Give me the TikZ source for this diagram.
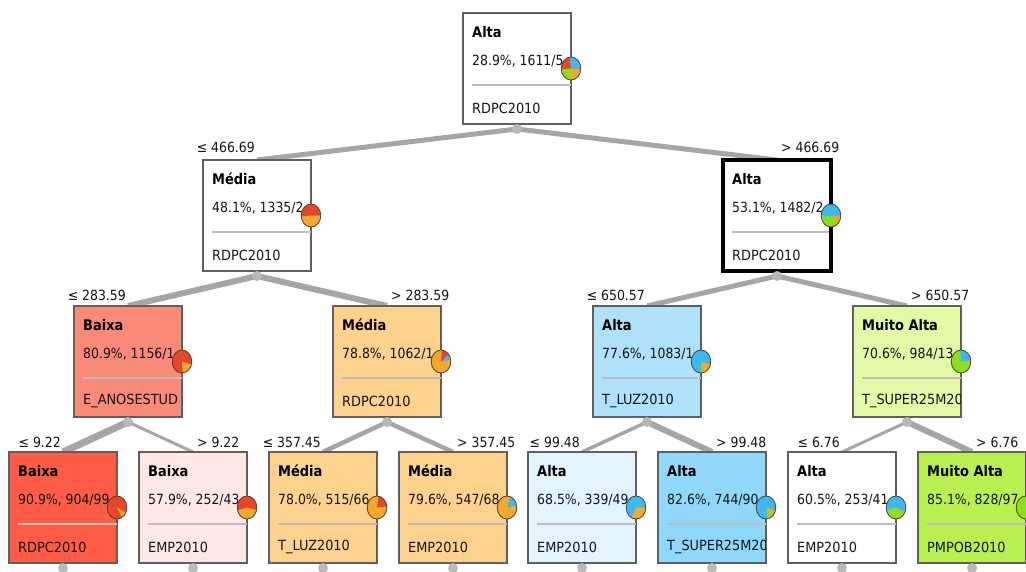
\documentclass[tikz,border=0pt]{standalone}
\usepackage{fontspec}
\usepackage{graphicx}
\setmainfont{DejaVu Sans}
\usetikzlibrary{calc}
\pgfdeclarelayer{bg}
\pgfsetlayers{bg,main}
\definecolor{edgec}{RGB}{166,166,170}
\definecolor{dotc}{RGB}{185,185,188}
\definecolor{boxline}{RGB}{95,95,95}
\definecolor{sepc}{RGB}{190,190,190}
\definecolor{txt}{RGB}{20,20,30}
\definecolor{pred}{RGB}{232,70,42}
\definecolor{pora}{RGB}{245,168,44}
\definecolor{pblu}{RGB}{62,184,245}
\definecolor{pgrn}{RGB}{142,222,32}
\definecolor{pline}{RGB}{80,65,40}
\definecolor{fBaixaA}{RGB}{250,138,120}
\definecolor{fBaixaB}{RGB}{255,92,70}
\definecolor{fBaixaC}{RGB}{253,232,230}
\definecolor{fMedia}{RGB}{253,210,140}
\definecolor{fAltaA}{RGB}{175,226,250}
\definecolor{fAltaB}{RGB}{225,243,253}
\definecolor{fAltaC}{RGB}{143,216,250}
\definecolor{fMAltaA}{RGB}{226,250,165}
\definecolor{fMAltaB}{RGB}{185,240,80}
\newcommand\nx[1]{\scalebox{0.89}[1]{#1}}
\newcommand\nv[1]{\scalebox{0.92}[1]{#1}}
\tikzset{
  tbox/.style={draw=boxline, line width=1.3pt, minimum width=108pt, minimum height=111pt,
    anchor=north west, inner sep=0pt, outer sep=0pt},
  ttitle/.style={anchor=west, inner sep=0pt, text=black, font=\fontsize{14.6}{16}\selectfont\bfseries},
  tstat/.style={anchor=west, inner sep=0pt, text=txt, font=\fontsize{14}{16}\selectfont},
  tvar/.style={anchor=west, inner sep=0pt, text=txt, font=\fontsize{14}{16}\selectfont},
  tsep/.style={draw=sepc, line width=2pt},
  edge/.style={draw=edgec},
  dotst/.style={fill=dotc},
  pieline/.style={draw=pline, line width=0.8pt},
  lleft/.style={anchor=base east, inner sep=0pt, text=txt, font=\fontsize{14}{16}\selectfont},
  lright/.style={anchor=base west, inner sep=0pt, text=txt, font=\fontsize{14}{16}\selectfont},
}
\newcommand\tbox[7]{%
  \node[tbox, fill=#4] (#1) at (#2,#3) {};
  \begin{scope}
    \clip ([xshift=1pt,yshift=-1pt]#1.north west) rectangle ([xshift=-1pt,yshift=1pt]#1.south east);
    \node[ttitle] (#1t) at ([xshift=9pt,yshift=-19pt]#1.north west) {\nx{#5}};
    \node[tstat] (#1s) at ([xshift=9pt,yshift=-48pt]#1.north west) {\nx{#6}};
    \node[tvar] (#1v) at ([xshift=9pt,yshift=-95pt]#1.north west) {\nv{#7}};
  \end{scope}
  \draw[tsep] ([xshift=9pt,yshift=-72pt]#1.north west) -- ([yshift=-72pt]#1.north east);
  \coordinate (#1d) at ([yshift=-5pt]#1.south);
}
\newcommand\piechart[3]{%
  \fill[#2] (#1.east) ellipse[x radius=9.8pt, y radius=11.5pt];
  \foreach \pa/\pb/\pcol in {#3} {
    \fill[\pcol] (#1.east) -- ++(\pa:9.8pt and 11.5pt) arc[start angle=\pa, end angle=\pb, x radius=9.8pt, y radius=11.5pt] -- cycle;
  }
  \draw[pieline] (#1.east) ellipse[x radius=9.8pt, y radius=11.5pt];
}
\begin{document}
\begin{tikzpicture}[x=1pt,y=-1pt]
\useasboundingbox (0,0) rectangle (1026,572);
\clip (0,0) rectangle (1026,572);
\begin{pgfonlayer}{bg}
\fill[white] (0,0) rectangle (1026,572);
\end{pgfonlayer}

% boxes
\tbox{n0}{463}{13}{white}{Alta}{28.9\%, 1611/5}{RDPC2010}
\tbox{n1}{203}{160}{white}{Média}{48.1\%, 1335/2}{RDPC2010}
\tbox{n2}{723}{160}{white}{Alta}{53.1\%, 1482/2}{RDPC2010}
\draw[black, line width=3.5pt] (n2.north west) rectangle (n2.south east);
\tbox{n11}{74}{306}{fBaixaA}{Baixa}{80.9\%, 1156/1}{E\_ANOSESTUD}
\tbox{n12}{333}{306}{fMedia}{Média}{78.8\%, 1062/1}{RDPC2010}
\tbox{n21}{593}{306}{fAltaA}{Alta}{77.6\%, 1083/1}{T\_LUZ2010}
\tbox{n22}{853}{306}{fMAltaA}{Muito Alta}{70.6\%, 984/13}{T\_SUPER25M20}
\tbox{n111}{9}{452}{fBaixaB}{Baixa}{90.9\%, 904/99}{RDPC2010}
\tbox{n112}{139}{452}{fBaixaC}{Baixa}{57.9\%, 252/43}{EMP2010}
\tbox{n121}{269}{452}{fMedia}{Média}{78.0\%, 515/66}{T\_LUZ2010}
\tbox{n122}{399}{452}{fMedia}{Média}{79.6\%, 547/68}{EMP2010}
\tbox{n211}{528}{452}{fAltaB}{Alta}{68.5\%, 339/49}{EMP2010}
\tbox{n212}{658}{452}{fAltaC}{Alta}{82.6\%, 744/90}{T\_SUPER25M20}
\tbox{n221}{788}{452}{white}{Alta}{60.5\%, 253/41}{EMP2010}
\tbox{n222}{918}{452}{fMAltaB}{Muito Alta}{85.1\%, 828/97}{PMPOB2010}

% edges
\begin{pgfonlayer}{bg}
\draw[edge, line width=5pt] (n0d) -- (n1.north);
\draw[edge, line width=5pt] (n0d) -- (n2.north);
\draw[edge, line width=6pt] (n1d) -- (n11.north);
\draw[edge, line width=6pt] (n1d) -- (n12.north);
\draw[edge, line width=5pt] (n2d) -- (n21.north);
\draw[edge, line width=5pt] (n2d) -- (n22.north);
\draw[edge, line width=7pt] (n11d) -- (n111.north);
\draw[edge, line width=3pt] (n11d) -- (n112.north);
\draw[edge, line width=4.5pt] (n12d) -- (n121.north);
\draw[edge, line width=4.5pt] (n12d) -- (n122.north);
\draw[edge, line width=3.5pt] (n21d) -- (n211.north);
\draw[edge, line width=6pt] (n21d) -- (n212.north);
\draw[edge, line width=3pt] (n22d) -- (n221.north);
\draw[edge, line width=6pt] (n22d) -- (n222.north);
\end{pgfonlayer}

% dots
\foreach \n in {n0,n1,n2,n11,n12,n21,n22,n111,n112,n121,n122,n211,n212,n221,n222}
  \fill[dotst] (\n d) circle[radius=5pt];

% pies
\piechart{n0}{pblu}{99/185/pred, 185/270/pgrn, 270/355/pora}
\piechart{n1}{pred}{185/358/pora, 358/362/pblu}
\piechart{n2}{pblu}{186/320/pgrn, 320/355/pora}
\piechart{n11}{pred}{275/345/pora}
\piechart{n12}{pora}{10/40/pblu, 40/85/pred}
\piechart{n21}{pblu}{270/285/pgrn, 285/345/pora}
\piechart{n22}{pgrn}{0/5/pora, 5/95/pblu}
\piechart{n111}{pred}{300/333/pora}
\piechart{n112}{pred}{195/347/pora}
\piechart{n121}{pora}{5/80/pred}
\piechart{n122}{pora}{10/70/pblu}
\piechart{n211}{pblu}{245/358/pora}
\piechart{n212}{pblu}{280/310/pgrn, 310/343/pora}
\piechart{n221}{pblu}{193/325/pgrn, 325/335/pora}
\piechart{n222}{pgrn}{30/85/pblu}

% branch labels
\node[lleft]  (l1)   at ([xshift=-2pt,yshift=7pt]n1.north)   {\nx{≤ 466.69}};
\node[lright] (l2)   at ([xshift=4pt,yshift=7pt]n2.north)    {\nx{> 466.69}};
\node[lleft]  (l11)  at ([xshift=-2pt,yshift=5pt]n11.north)  {\nx{≤ 283.59}};
\node[lright] (l12)  at ([xshift=4pt,yshift=5pt]n12.north)   {\nx{> 283.59}};
\node[lleft]  (l21)  at ([xshift=-2pt,yshift=5pt]n21.north)  {\nx{≤ 650.57}};
\node[lright] (l22)  at ([xshift=4pt,yshift=5pt]n22.north)   {\nx{> 650.57}};
\node[lleft]  (l111) at ([xshift=-2pt,yshift=5pt]n111.north) {\nx{≤ 9.22}};
\node[lright] (l112) at ([xshift=4pt,yshift=5pt]n112.north)  {\nx{> 9.22}};
\node[lleft]  (l121) at ([xshift=-2pt,yshift=5pt]n121.north) {\nx{≤ 357.45}};
\node[lright] (l122) at ([xshift=4pt,yshift=5pt]n122.north)  {\nx{> 357.45}};
\node[lleft]  (l211) at ([xshift=-2pt,yshift=5pt]n211.north) {\nx{≤ 99.48}};
\node[lright] (l212) at ([xshift=4pt,yshift=5pt]n212.north)  {\nx{> 99.48}};
\node[lleft]  (l221) at ([xshift=-2pt,yshift=5pt]n221.north) {\nx{≤ 6.76}};
\node[lright] (l222) at ([xshift=4pt,yshift=5pt]n222.north)  {\nx{> 6.76}};
\end{tikzpicture}
\end{document}
